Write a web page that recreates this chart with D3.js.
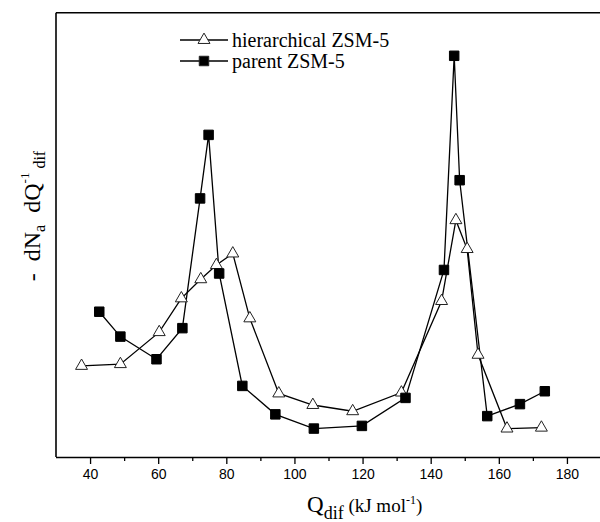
<!DOCTYPE html>
<html>
<head>
<meta charset="utf-8">
<script src="https://cdn.jsdelivr.net/npm/d3@7/dist/d3.min.js"></script>
<style>
  html, body { margin: 0; padding: 0; background: #fff; }
  svg { display: block; }
  text { white-space: pre; }
</style>
</head>
<body>
<svg id="chart" width="600" height="522"></svg>
<script>
// Differential heat of adsorption (kJ/mol) vs. site distribution, arbitrary units
const hierQ = [37.5, 48.9, 60.3, 66.8, 72.5, 77.1, 81.9, 86.9, 95.4, 105.4, 117.1, 131.4, 143.2, 147.4, 150.7, 153.9, 162.4, 172.5];
const hierN = [20.5, 20.9, 28.1, 35.7, 40.0, 43.2, 45.8, 31.2, 14.3, 11.7, 10.3, 14.5, 35.1, 53.3, 46.8, 23.0, 6.4, 6.6];

const parentQ = [42.7, 48.9, 59.5, 67.1, 72.3, 74.8, 77.9, 84.7, 94.4, 105.7, 119.8, 132.6, 143.9, 146.9, 148.5, 156.6, 166.2, 173.5];
const parentN = [32.7, 27.1, 22.0, 29.0, 58.2, 72.5, 41.3, 16.0, 9.6, 6.4, 7.0, 13.3, 42.1, 90.3, 62.3, 9.2, 11.9, 14.8];

const xMajorTicks = [40, 60, 80, 100, 120, 140, 160, 180];
const xMinorTicks = [50, 70, 90, 110, 130, 150, 170];
const seriesNames = ["hierarchical ZSM-5", "parent ZSM-5"];

const svg = d3.select("#chart");
const plotL = 56, plotR = 601, plotT = 12.7, plotB = 457;

const x = d3.scaleLinear().domain([30, 190]).range([plotL, plotR]);
const y = d3.scaleLinear().domain([0, 100]).range([plotB, plotT]);

const serif = "'Liberation Serif', 'Times New Roman', serif";
const sans = "'Liberation Sans', Arial, sans-serif";

// frame: left and top borders
svg.append("line").attr("x1", plotL).attr("x2", plotL).attr("y1", plotT).attr("y2", plotB)
  .attr("stroke", "#000").attr("stroke-width", 1.6);
svg.append("line").attr("x1", plotL).attr("x2", 600).attr("y1", plotT).attr("y2", plotT)
  .attr("stroke", "#000").attr("stroke-width", 1.6);

// bottom axis with major and minor ticks
const xAxis = d3.axisBottom(x).tickValues(xMajorTicks).tickSize(7).tickSizeOuter(0).tickPadding(5);
const gx = svg.append("g").attr("transform", `translate(0,${plotB})`).call(xAxis);
gx.select(".domain").attr("stroke-width", 1.6).attr("d", `M${plotL},0.5H600`);
gx.selectAll(".tick line").attr("stroke-width", 1.3);
gx.selectAll(".tick text").attr("font-family", sans).attr("font-size", 14).attr("fill", "#000");
const xMinor = d3.axisBottom(x).tickValues(xMinorTicks).tickSize(4).tickFormat("").tickSizeOuter(0);
const gm = svg.append("g").attr("transform", `translate(0,${plotB})`).call(xMinor);
gm.select(".domain").remove();
gm.selectAll(".tick line").attr("stroke-width", 1.3);

// series
const hier = hierQ.map((q, i) => ({ q, n: hierN[i] }));
const parent = parentQ.map((q, i) => ({ q, n: parentN[i] }));

const line = d3.line().x(d => x(d.q)).y(d => y(d.n));

svg.append("path").datum(hier).attr("d", line)
  .attr("fill", "none").attr("stroke", "#000").attr("stroke-width", 1.3);
svg.append("path").datum(parent).attr("d", line)
  .attr("fill", "none").attr("stroke", "#000").attr("stroke-width", 1.3);

const tri = d3.symbol().type(d3.symbolTriangle).size(62);
const sq = d3.symbol().type(d3.symbolSquare).size(90);

svg.append("g").selectAll("path").data(hier).join("path")
  .attr("d", tri).attr("transform", d => `translate(${x(d.q)},${y(d.n)})`)
  .attr("fill", "#fff").attr("stroke", "#222").attr("stroke-width", 1);
svg.append("g").selectAll("path").data(parent).join("path")
  .attr("d", sq).attr("transform", d => `translate(${x(d.q)},${y(d.n)})`)
  .attr("fill", "#000").attr("stroke", "#000").attr("stroke-width", 1);

// legend
const legend = svg.append("g");
const legRows = [
  { name: seriesNames[0], sym: tri, fill: "#fff", cy: 40 },
  { name: seriesNames[1], sym: sq, fill: "#000", cy: 61 }
];
legRows.forEach(r => {
  legend.append("line").attr("x1", 180).attr("x2", 228).attr("y1", r.cy).attr("y2", r.cy)
    .attr("stroke", "#000").attr("stroke-width", 1.3);
  legend.append("path").attr("d", r.sym).attr("transform", `translate(204,${r.cy})`)
    .attr("fill", r.fill).attr("stroke", "#222").attr("stroke-width", 1);
  legend.append("text").attr("x", 232).attr("y", r.cy + 6.5)
    .attr("font-family", serif).attr("font-size", 20).attr("fill", "#000").text(r.name);
});

// x axis title
const xt = svg.append("text").attr("x", 307).attr("y", 512)
  .attr("font-family", serif).attr("fill", "#000");
xt.append("tspan").attr("font-size", 23).text("Q");
xt.append("tspan").attr("font-size", 18).attr("dy", 7).text("dif");
xt.append("tspan").attr("font-size", 19).attr("dy", -7).text(" (kJ mol");
xt.append("tspan").attr("font-size", 12).attr("dy", -8).text("-1");
xt.append("tspan").attr("font-size", 19).attr("dy", 8).text(")");

// y axis title
const yt = svg.append("text").attr("transform", "translate(40,216) rotate(-90)")
  .attr("text-anchor", "middle").attr("font-family", serif).attr("fill", "#000");
yt.append("tspan").attr("font-size", 24).text("-  dN");
yt.append("tspan").attr("font-size", 16).attr("dy", 5).text("a");
yt.append("tspan").attr("font-size", 24).attr("dy", -5).text("  dQ");
yt.append("tspan").attr("font-size", 13).attr("dy", -11).text("-1");
yt.append("tspan").attr("font-size", 16).attr("dy", 16).text(" dif");
</script>
</body>
</html>
